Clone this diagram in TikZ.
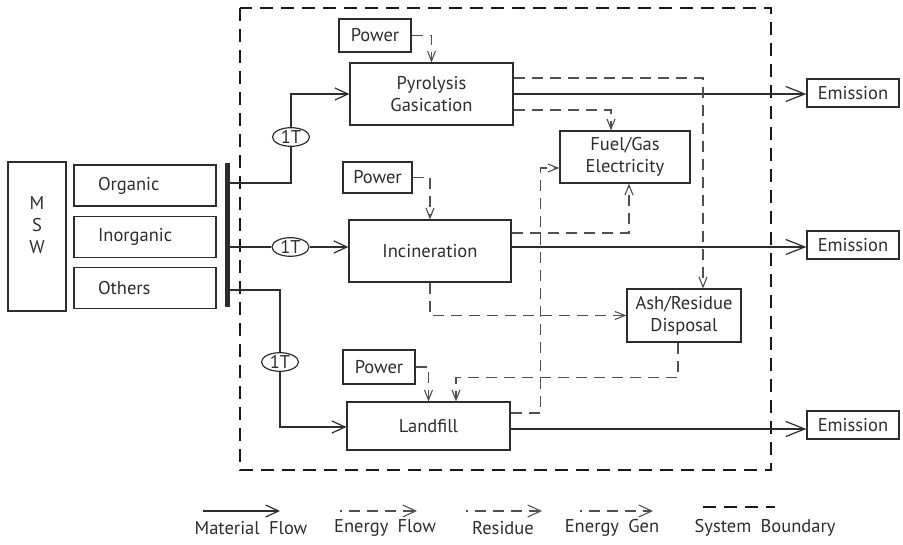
\documentclass[tikz,border=0pt]{standalone}
\usepackage{fontspec}
\setmainfont{PT Sans}
\usetikzlibrary{arrows.meta, positioning, shapes.geometric}
\definecolor{cLine}{RGB}{45,45,45}
\definecolor{cDash}{RGB}{80,80,80}
\tikzset{
    procbox/.style ={rectangle, draw=cLine, line width=1.2pt, align=center, inner sep=0pt},
    catbox/.style  ={rectangle, draw=cLine, line width=1.2pt, minimum height=41pt, text width=94pt, inner xsep=24pt, inner ysep=0pt, align=left},
    powerbox/.style={rectangle, draw=cLine, line width=1.2pt, minimum width=72pt, minimum height=33pt, inner sep=0pt},
    outbox/.style  ={rectangle, draw=cLine, line width=1.2pt, minimum width=92pt, minimum height=28pt, inner sep=0pt},
    tnode/.style   ={ellipse, draw=cLine, line width=1.2pt, minimum width=37pt, minimum height=18pt, inner sep=0pt},
    matline/.style ={draw=cLine, line width=1.2pt},
    matflow/.style ={matline, -{Straight Barb[length=13pt, width=12pt]}},
    outflow/.style ={matline, -{Straight Barb[length=19pt, width=15pt]}},
    enflow/.style  ={draw=cDash, line width=1.1pt, dash pattern=on 11pt off 7pt, -{Straight Barb[length=10pt, width=8pt]}},
    legdash/.style ={draw=cDash, line width=1.1pt, dash pattern=on 1.5pt off 7pt on 11pt off 7pt on 11pt off 7pt on 11pt off 7pt on 30pt, -{Straight Barb[length=13pt, width=12pt]}},
    boundary/.style={draw=black!90, line width=2.2pt, dash pattern=on 13pt off 8pt},
}
\begin{document}
\begin{tikzpicture}[x=1pt, y=-1pt, font=\fontsize{18.5}{22}\selectfont, text=cLine, node distance=9pt]
\useasboundingbox (0,0) rectangle (903,545);
% system boundary
\draw[boundary] (240,8) rectangle (771,470);
% waste source
\node[procbox, minimum width=58pt, minimum height=149pt] (msw) at (37,236.5) {M\\S\\W\\\mbox{}};
\node[catbox] (org) at (145,185.5) {Organic};
\node[catbox, below=of org] (inorg) {Inorganic};
\node[catbox, below=of inorg] (oth) {Others};
\node[fill=cLine, inner sep=0pt, minimum width=5pt, minimum height=144pt] (bar) at (227,235) {};
\node[tnode] (t1) at (291,137) {1T};
\node[tnode] (t2) at (290.5,247) {1T};
\node[tnode] (t3) at (280,362) {1T};
% processes
\node[procbox, minimum width=163pt, minimum height=62pt] (pyro) at (431.5,94) {Pyrolysis\\Gasication};
\node[procbox, minimum width=162pt, minimum height=62pt] (inc) at (430,251) {Incineration};
\node[procbox, minimum width=163pt, minimum height=48pt] (land) at (428.5,426) {Landfill};
\node[procbox, minimum width=130pt, minimum height=52pt] (fuel) at (625,157) {Fuel/Gas\\Electricity};
\node[procbox, minimum width=114pt, minimum height=53pt] (ash) at (684,315.5) {Ash/Residue\\Disposal};
\node[powerbox] (pw1) at (375,35.5) {Power};
\node[powerbox, minimum width=69pt, minimum height=31pt] (pw2) at (377.5,177.5) {Power};
\node[powerbox, minimum height=34pt] (pw3) at (379,367) {Power};
\node[outbox] (em1) at (853,93) {Emission};
\node[outbox] (em2) at (853,245) {Emission};
\node[outbox] (em3) at (853,425) {Emission};
% material flow
\draw[matline] ([yshift=52pt]bar.east) -| (t1.south);
\draw[matflow] (t1.north) |- (pyro.west);
\draw[matline] (bar.east |- t2) -- (t2.west);
\draw[matflow] (t2.east) -- (t2.east -| inc.west);
\draw[matline] ([yshift=-55pt]bar.east) -| (t3.north);
\draw[matflow] (t3.south) |- ([yshift=-1pt]land.west);
\draw[outflow] (pyro.east) -- (pyro.east -| em1.west);
\draw[outflow] (t2 -| inc.east) -- (t2 -| em2.west);
\draw[outflow] ([yshift=-3pt]land.east) -- ([yshift=-3pt]land.east -| em3.west);
% energy and residue
\draw[enflow] (pw1.east) -| (pyro.north);
\draw[enflow] (pw2.east) -| (inc.north);
\draw[enflow] (pw3.east) -| (land.north);
\draw[enflow] ([yshift=16pt]pyro.east) -| ([xshift=19pt]ash.north);
\draw[enflow] ([yshift=-16pt]pyro.east) -| ([xshift=-14pt]fuel.north);
\draw[enflow] ([yshift=18pt]inc.east) -| ([xshift=4pt]fuel.south);
\draw[enflow] (inc.south) |- (ash.west);
\draw[enflow] ([xshift=-6pt]ash.south) -- ++(0,35) -| ([xshift=27.5pt]land.north);
\draw[enflow] ([yshift=13pt]land.east) -- ++(30,0) |- ([yshift=-11pt]fuel.west);
% legend
\node (lg1) at (251,528) {Material\enspace Flow};
\node (lg2) at (385,528) {Energy\enspace Flow};
\node (lg3) at (503,528) {Residue};
\node (lg4) at (612,528) {Energy\enspace Gen};
\node (lg5) at (765,528) {System\enspace Boundary};
\coordinate (a1) at (203,511); \coordinate (b1) at (280,511);
\coordinate (a2) at (340,511); \coordinate (b2) at (417,511);
\coordinate (a3) at (466,511); \coordinate (b3) at (542,511);
\coordinate (a4) at (580,511); \coordinate (b4) at (653,511);
\coordinate (a5) at (703,507); \coordinate (b5) at (775,507);
\draw[matflow] (a1) -- (b1);
\draw[legdash] (a2) -- (b2);
\draw[legdash] (a3) -- (b3);
\draw[legdash] (a4) -- (b4);
\draw[boundary] (a5) -- (b5);
\end{tikzpicture}
\end{document}
